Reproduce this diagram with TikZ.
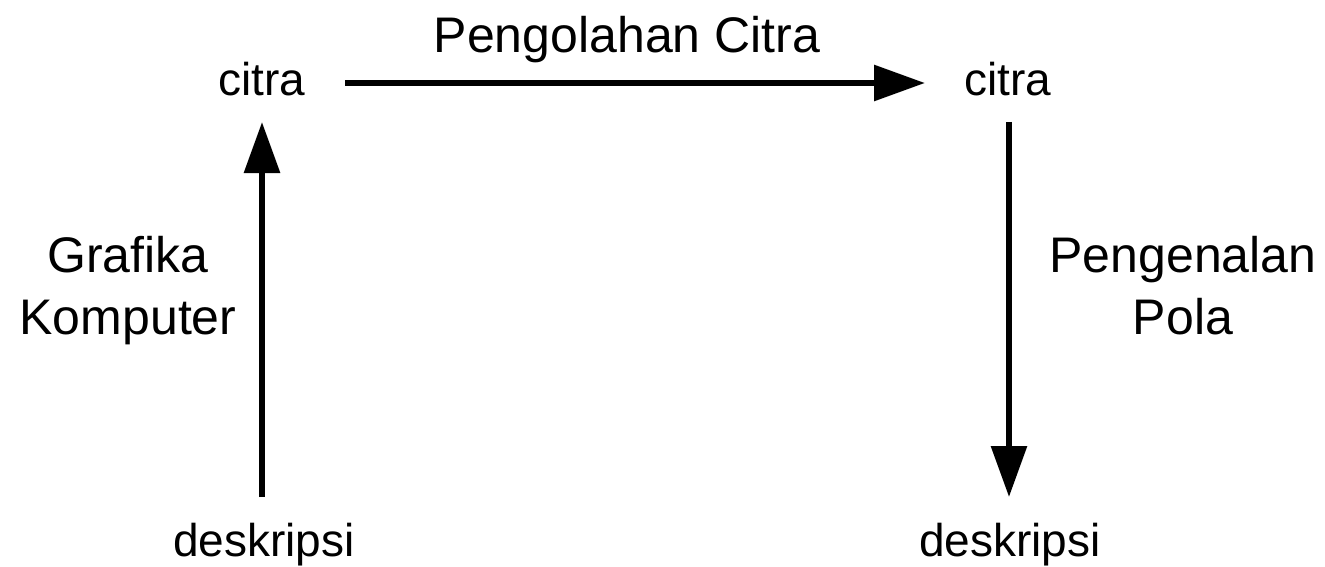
\documentclass[tikz,border=0pt]{standalone}
\usepackage{fontspec}
\setmainfont{Liberation Sans}
\usetikzlibrary{arrows.meta}
\begin{document}
\begin{tikzpicture}[x=1pt,y=-1pt,
  term/.style={inner sep=0pt,anchor=base,font=\fontsize{46}{55}\selectfont},
  lbl/.style={inner sep=0pt,anchor=base,align=center,font=\fontsize{50}{62}\selectfont},
  flow/.style={line width=6pt,-{Triangle[width=35pt,length=51pt]}}]
\useasboundingbox (0,0) rectangle (1325,567);
\node[term] (c1) at (262,96) {citra};
\node[term] (c2) at (1008,96) {citra};
\node[term] (d1) at (264,556) {deskripsi};
\node[term] (d2) at (1010,556) {deskripsi};
\coordinate (h1) at (345,83);
\coordinate (h2) at (925,83);
\coordinate (l1) at (262,497);
\coordinate (l2) at (262,122);
\coordinate (r1) at (1009,122);
\coordinate (r2) at (1009,497);
\draw[flow] (h1) -- (h2);
\draw[flow] (l1) -- (l2);
\draw[flow] (r1) -- (r2);
\node[lbl] (p) at (627,53) {Pengolahan Citra};
\node[lbl] (g) at (128,334) {Grafika\\Komputer};
\node[lbl] (q) at (1183,334) {Pengenalan\\Pola};
\end{tikzpicture}
\end{document}
